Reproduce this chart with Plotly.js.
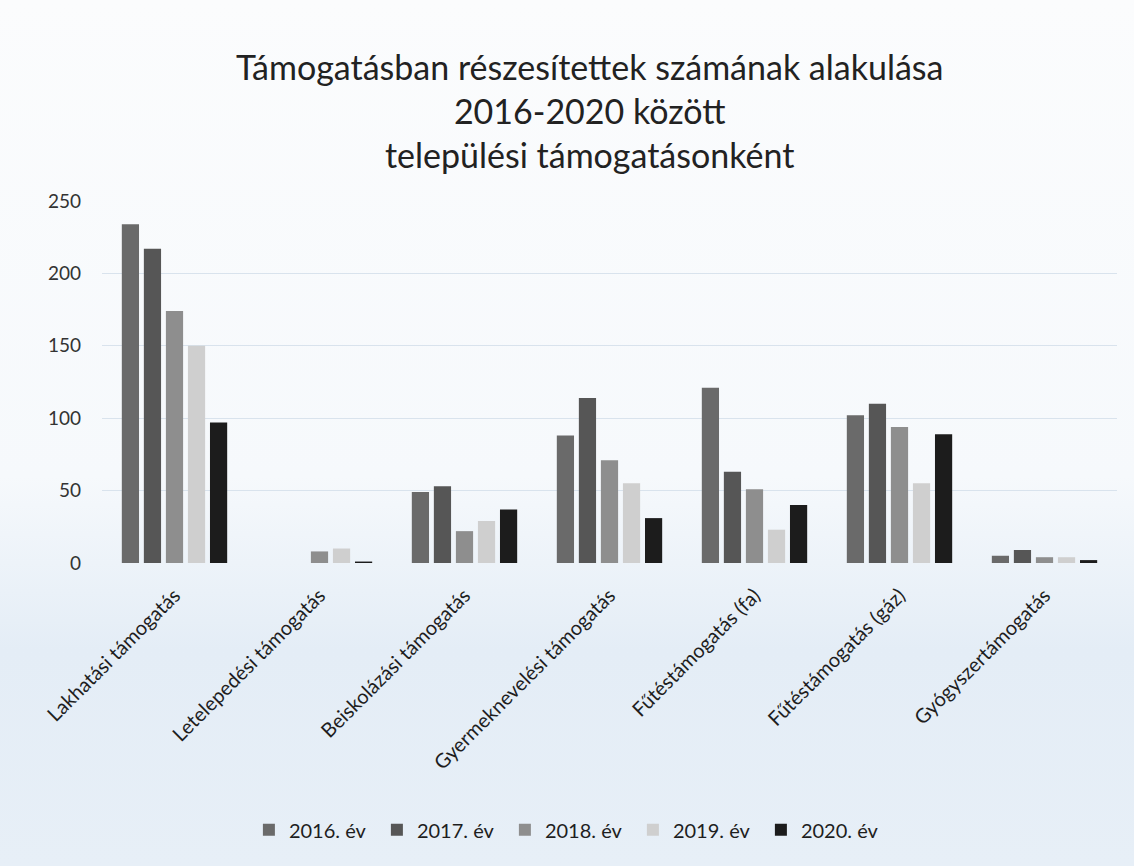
<!DOCTYPE html>
<html>
<head>
<meta charset="utf-8">
<script src="https://cdn.plot.ly/plotly-3.0.1.min.js"></script>
<style>
  html, body { margin: 0; padding: 0; }
  body {
    width: 1134px; height: 866px;
    background: linear-gradient(to bottom, #fbfcfd 0%, #f6f9fc 55%, #e4edf6 75%, #e7eff7 100%);
  }
  #chart { width: 1134px; height: 866px; }
</style>
</head>
<body>
<div id="chart"></div>
<script>
// categories and yearly counts
const categories = [
  'Lakhatási támogatás',
  'Letelepedési támogatás',
  'Beiskolázási támogatás',
  'Gyermeknevelési támogatás',
  'Fűtéstámogatás (fa)',
  'Fűtéstámogatás (gáz)',
  'Gyógyszertámogatás'
];
const years = ['2016. év', '2017. év', '2018. év', '2019. év', '2020. év'];
const v2016 = [234, 0, 49, 88, 121, 102, 5];
const v2017 = [217, 0, 53, 114, 63, 110, 9];
const v2018 = [174, 8, 22, 71, 51, 94, 4];
const v2019 = [150, 10, 29, 55, 23, 55, 4];
const v2020 = [97, 1, 37, 31, 40, 89, 2];
const yTicks = [0, 50, 100, 150, 200, 250];

const barColors = ['#6a6a6a', '#565656', '#8e8e8e', '#cfcfcf', '#1c1c1c'];
const series = [v2016, v2017, v2018, v2019, v2020];

const traces = series.map((vals, i) => ({
  type: 'bar',
  name: years[i],
  x: categories,
  y: vals,
  marker: { color: barColors[i] }
}));

const font = 'Lato, "Open Sans", sans-serif';

const layout = {
  width: 1134,
  height: 866,
  paper_bgcolor: 'rgba(0,0,0,0)',
  plot_bgcolor: 'rgba(0,0,0,0)',
  margin: { l: 102, r: 17, t: 201, b: 303 },
  barmode: 'group',
  bargap: 0.24,
  bargroupgap: 0.22,
  title: {
    text: 'Támogatásban részesítettek számának alakulása<br>2016-2020 között<br>települési támogatásonként',
    font: { family: font, size: 34, color: '#222222' },
    x: 0.52,
    xanchor: 'center',
    y: 0.908,
    yanchor: 'top'
  },
  xaxis: {
    tickangle: -45,
    tickfont: { family: font, size: 20, color: '#1e1e1e' },
    showline: false,
    // invisible ticks just to push the slanted labels a bit lower
    ticks: 'outside',
    ticklen: 12,
    tickcolor: 'rgba(0,0,0,0)'
  },
  yaxis: {
    range: [0, 250],
    tickvals: yTicks,
    tickfont: { family: font, size: 19, color: '#333333' },
    gridcolor: '#d9e3ed',
    zeroline: false,
    ticklabelstandoff: 20
  },
  showlegend: true,
  legend: {
    orientation: 'h',
    x: 0.46,
    xanchor: 'center',
    y: -0.737,
    yanchor: 'middle',
    font: { family: font, size: 20, color: '#1e1e1e' },
    bgcolor: 'rgba(0,0,0,0)',
    entrywidth: 83
  }
};

Plotly.newPlot('chart', traces, layout, { displayModeBar: false, staticPlot: true });
</script>
</body>
</html>
